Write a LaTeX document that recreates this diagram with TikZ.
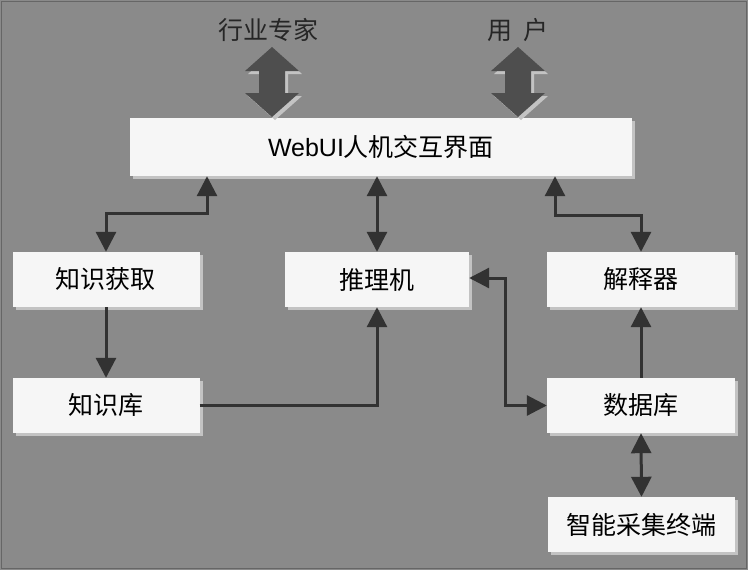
\documentclass[tikz,border=0pt]{standalone}
\usepackage{fontspec}
\setmainfont{Liberation Sans}
\newfontfamily\cjk{Noto Sans CJK SC}
\usetikzlibrary{arrows.meta,shadows}
\definecolor{bgc}{RGB}{138,138,138}
\definecolor{boxc}{RGB}{246,246,246}
\definecolor{linec}{RGB}{50,50,50}
\definecolor{bigc}{RGB}{78,78,78}
\definecolor{shc}{RGB}{195,195,195}
\tikzset{
  box/.style={fill=boxc, draw=none, inner sep=0pt, font=\cjk\fontsize{25}{25}\selectfont,
    drop shadow={shadow xshift=3pt, shadow yshift=-3pt, fill=shc, opacity=1}},
  lbl/.style={inner sep=0pt, font=\cjk\fontsize{25}{25}\selectfont, text=black!85},
  conn/.style={draw=linec, line width=3pt, line join=miter},
  tip/.style={-{Triangle[width=20pt,length=20pt]}},
  dtip/.style={{Triangle[width=20pt,length=20pt]}-{Triangle[width=20pt,length=20pt]}},
  bigarrow/.pic={
    \fill[shc] (3,3) -- (30,27) -- (16,27) -- (16,49) -- (30,49) -- (3,73) -- (-24,49) -- (-10,49) -- (-10,27) -- (-24,27) -- cycle;
    \fill[bigc] (0,0) -- (27,24) -- (13,24) -- (13,46) -- (27,46) -- (0,70) -- (-27,46) -- (-13,46) -- (-13,24) -- (-27,24) -- cycle;
  }
}
\begin{document}
\begin{tikzpicture}[x=1pt,y=-1pt]
\fill[bgc] (0,0) rectangle (748,570);
\draw[black!60, line width=1pt] (1.5,1.5) rectangle (746.5,568.5);

% labels
\node[lbl] (hy) at (268,30) {行业专家};
\node[lbl] (yh) at (518,30) {用\hspace{0.45em}户};

% boxes
\node[box, minimum width=502pt, minimum height=58pt] (web) at (381,147)
  {{\fontspec{Liberation Sans}WebUI}人机交互界面};
\node[box, minimum width=187pt, minimum height=55pt] (zs) at (106,279.5) {知识获取};
\node[box, minimum width=184pt, minimum height=55pt] (tl) at (377,279.5) {推理机};
\node[box, minimum width=188pt, minimum height=55pt] (jsq) at (641,279.5) {解释器};
\node[box, minimum width=187pt, minimum height=55pt] (zsk) at (106,405.5) {知识库};
\node[box, minimum width=188pt, minimum height=55pt] (sjk) at (641,405.5) {数据库};
\node[box, minimum width=187pt, minimum height=55pt] (zn) at (641.5,524.5) {智能采集终端};

% big arrows
\path (272,47) pic {bigarrow};
\path (518,47) pic {bigarrow};

% connectors
\coordinate (c1) at (207,213);
\draw[conn,dtip] (zs.north) |- (c1) -- (c1 |- web.south);
\draw[conn,dtip] (web.south -| tl.north) -- (tl.north);
\coordinate (c3) at (555,215);
\draw[conn,dtip] (jsq.north) |- (c3) -- (c3 |- web.south);
\draw[conn,tip] (zs.south) -- (zsk.north);
\draw[conn,tip] (zsk.east) -| (tl.south);
\coordinate (c6) at (505,278);
\draw[conn,dtip] (tl.east |- c6) -- (c6) |- (sjk.west);
\draw[conn,tip] (sjk.north) -- (jsq.south);
\draw[conn,dtip] (sjk.south) -- (zn.north);
\end{tikzpicture}
\end{document}
